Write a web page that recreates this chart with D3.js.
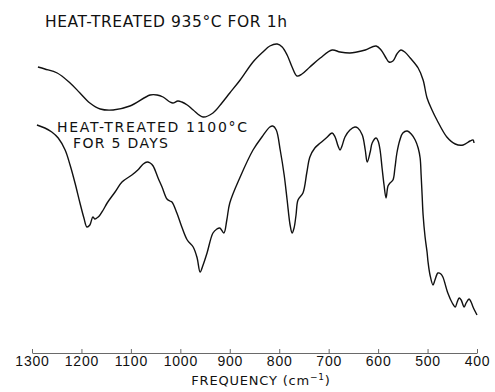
<!DOCTYPE html>
<html>
<head>
<meta charset="utf-8">
<script src="https://cdn.jsdelivr.net/npm/d3@7"></script>
<style>
  body { margin: 0; background: #fff; }
  svg { display: block; font-family: "DejaVu Sans", sans-serif; }
  .axis path, .axis line { stroke: #444; stroke-width: 0.8; }
  .axis text { font-size: 14px; fill: #111; letter-spacing: 0.8px; }
</style>
</head>
<body>
<svg id="chart" width="495" height="392"></svg>
<script>
// IR spectra, frequency (cm-1) vs transmission (arbitrary units)
var ticks = [1300, 1200, 1100, 1000, 900, 800, 700, 600, 500, 400];

var freq935 = [1288, 1274, 1249, 1223, 1203, 1183, 1162, 1136, 1102, 1061, 1047, 1035, 1021, 1015,
  1005, 997, 986, 974, 954, 934, 916, 900, 879, 853, 833, 819, 804, 794, 784, 774, 764, 754, 738,
  717, 693, 677, 657, 643, 626, 604, 594, 584, 578, 570, 562, 554, 546, 535, 519, 509, 501, 491,
  481, 461, 444, 428, 414, 408, 406];
var trans935 = [273, 271, 267, 257, 247, 237, 231, 230, 234, 245, 245, 243, 238, 237,
  239, 238, 235, 230, 223, 227, 237, 247, 260, 278, 288, 294, 296, 293, 285, 273, 264, 266, 273,
  282, 290, 288, 287, 288, 290, 294, 290, 282, 278, 279, 286, 290, 288, 282, 272, 260, 242, 230,
  220, 203, 196, 195, 199, 200, 197];

var freq1100 = [1290, 1274, 1260, 1247, 1233, 1223, 1213, 1203, 1195, 1189, 1183, 1177, 1173, 1169,
  1164, 1156, 1148, 1132, 1118, 1098, 1086, 1075, 1067, 1061, 1055, 1045, 1037, 1027, 1021, 1017,
  1007, 997, 986, 974, 966, 960, 954, 946, 934, 926, 920, 912, 906, 900, 879, 853, 835, 819, 813,
  806, 798, 790, 784, 778, 774, 770, 766, 762, 752, 744, 738, 728, 717, 705, 693, 687, 681, 677,
  673, 667, 657, 647, 641, 632, 626, 622, 616, 612, 604, 600, 596, 592, 588, 584, 580, 576, 570,
  566, 562, 556, 550, 541, 533, 525, 519, 515, 513, 511, 509, 505, 501, 499, 495, 489, 485, 479,
  473, 469, 459, 450, 444, 440, 436, 432, 426, 422, 416, 412, 408, 400];
var trans1100 = [215, 212, 208, 202, 190, 175, 157, 137, 122, 113, 115, 123, 121, 122,
  124, 130, 137, 148, 158, 165, 170, 176, 178, 177, 174, 162, 153, 141, 139, 138,
  127, 113, 100, 93, 82, 68, 75, 87, 107, 111, 112, 107, 120, 137, 163, 190, 203, 213, 214,
  210, 190, 165, 140, 115, 107, 112, 125, 140, 147, 168, 183, 192, 197, 202, 207, 203, 194, 190,
  194, 203, 210, 213, 212, 205, 190, 178, 188, 197, 202, 199, 190, 172, 155, 142, 154, 157, 160,
  172, 187, 200, 207, 209, 206, 200, 192, 182, 165, 145, 125, 103, 88, 78, 65, 55, 60, 67,
  66, 63, 47, 37, 33, 38, 42, 40, 33, 37, 41, 38, 33, 25];

var svg = d3.select("#chart");

var x = d3.scaleLinear().domain([1300, 400]).range([32, 477]);
var y = d3.scaleLinear().domain([0, 300]).range([340, 40]);

var line = d3.line()
  .x(function (d) { return x(d[0]); })
  .y(function (d) { return y(d[1]); })
  .curve(d3.curveCatmullRom.alpha(0.5));

var series = [
  d3.zip(freq935, trans935),
  d3.zip(freq1100, trans1100)
];

svg.selectAll("path.spec")
  .data(series)
  .enter()
  .append("path")
  .attr("class", "spec")
  .attr("d", line)
  .attr("fill", "none")
  .attr("stroke", "#111")
  .attr("stroke-width", 1.4)
  .attr("stroke-linejoin", "round");

var axis = svg.append("g")
  .attr("class", "axis")
  .attr("transform", "translate(0,353)")
  .call(d3.axisBottom(x)
    .tickValues(ticks)
    .tickFormat(d3.format("d"))
    .tickSizeInner(-4)
    .tickSizeOuter(0)
    .tickPadding(3));

// axis title
var title = svg.append("text")
  .attr("x", 261)
  .attr("y", 385)
  .attr("text-anchor", "middle")
  .style("font-size", "13px")
  .style("letter-spacing", "0.8px")
  .attr("fill", "#111");
title.append("tspan").text("FREQUENCY (cm");
title.append("tspan").attr("dy", -5).style("font-size", "9px").text("−1");
title.append("tspan").attr("dy", 5).text(")");

// curve labels
svg.append("text")
  .attr("x", 45).attr("y", 27)
  .style("font-size", "15.5px")
  .attr("textLength", 242).attr("lengthAdjust", "spacing")
  .attr("fill", "#111")
  .text("HEAT-TREATED 935°C FOR 1h");

svg.append("text")
  .attr("x", 57).attr("y", 132)
  .style("font-size", "14px")
  .attr("textLength", 190).attr("lengthAdjust", "spacing")
  .attr("fill", "#111")
  .text("HEAT-TREATED 1100°C");

svg.append("text")
  .attr("x", 73).attr("y", 148)
  .style("font-size", "14px")
  .attr("textLength", 95).attr("lengthAdjust", "spacing")
  .attr("fill", "#111")
  .text("FOR 5 DAYS");
</script>
</body>
</html>
